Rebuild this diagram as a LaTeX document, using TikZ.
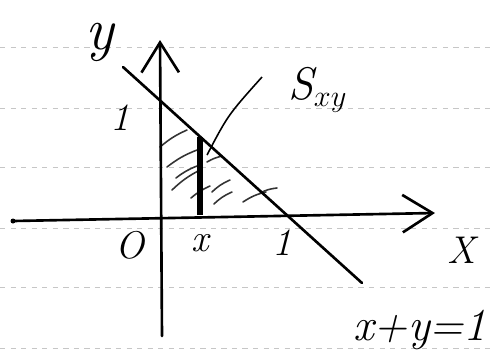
\documentclass[tikz,border=0pt]{standalone}
\usetikzlibrary{positioning,arrows.meta}
\tikzset{
    sketchrule/.style={draw, gray!45, dashed, line width=0.3pt},
    sketchaxis/.style={draw, line width=1.5pt, line cap=round, -{Straight Barb[length=0.6cm, width=0.75cm, line width=1.5pt]}},
    sketchline/.style={draw, line width=1.5pt, line cap=round},
    sketchhatch/.style={draw, gray!40!black, line width=0.9pt, line cap=round},
    sketchstrip/.style={draw, line width=3.2pt},
    sketchleader/.style={draw, line width=0.9pt},
    sketchlabel/.style={font=\fontsize{22}{24}\selectfont\itshape, inner sep=1pt},
    sketchwide/.style={font=\fontsize{26}{28}\selectfont\itshape, inner sep=1pt},
    sketchbig/.style={font=\fontsize{34}{36}\selectfont\itshape, inner sep=1pt}
}
\begin{document}
\begin{tikzpicture}[x=0.02cm, y=-0.02cm]
    \useasboundingbox (0,0) rectangle (491,360);

    % ruled paper
    \foreach \ry in {47,108,167,228,287,348}
        \draw[sketchrule] (0,\ry) -- (491,\ry);

    % points
    \coordinate (orig) at (161,216);
    \coordinate (yint) at (160,100);
    \coordinate (xint) at (285,213);
    \coordinate (xstart) at (13,221);
    \coordinate (xend) at (435,213);
    \coordinate (ybot) at (162,336);
    \coordinate (ytop) at (160,40);
    \coordinate (lstart) at (123,67);
    \coordinate (lend) at (362,283);
    \coordinate (stripbot) at (200,215);
    \coordinate (striptop) at (200,137);
    \coordinate (leadfoot) at (207,155);
    \coordinate (leadtip) at (262,77);

    % hatched region
    \draw[sketchhatch] (160,147) to[bend left=8] (187,130);
    \draw[sketchhatch] (167,167) to[bend left=8] (197,150);
    \draw[sketchhatch] (172,190) to[bend left=8] (200,170);
    \draw[sketchhatch] (176,178) to[bend left=8] (197,166);
    \draw[sketchhatch] (191,198) to[bend left=8] (210,186);
    \draw[sketchhatch] (207,162) to[bend left=8] (222,156);
    \draw[sketchhatch] (214,204) to[bend left=10] (232,192);
    \draw[sketchhatch] (212,192) to[bend left=10] (230,180);
    \draw[sketchhatch] (243,202) to[bend left=10] (266,192);
    \draw[sketchhatch] (260,193) to[bend left=10] (277,188);

    % axes and line
    \draw[sketchaxis] (xstart) -- (xend);
    \fill (xstart) circle (2.5);
    \draw[sketchaxis] (ybot) -- (ytop);
    \draw[sketchline] (lstart) -- (lend);

    % strip at x
    \draw[sketchstrip] (stripbot) -- (striptop);
    \draw[sketchleader] (leadfoot) .. controls (228,115) .. (leadtip);

    % labels
    \node[sketchbig] (ylab) at (100,42) {y};
    \node[sketchlabel] (yone) at (120,118) {1};
    \node[sketchlabel] (olab) at (130,245) {O};
    \node[sketchlabel] (xlab) at (200,243) {x};
    \node[sketchlabel] (xone) at (282,243) {1};
    \node[sketchlabel] (bigx) at (462,250) {X};
    \node[sketchwide] (slab) at (318,90) {S$_{xy}$};
    \node[sketchwide] (eqlab) at (420,330) {x+y=1};
\end{tikzpicture}
\end{document}
